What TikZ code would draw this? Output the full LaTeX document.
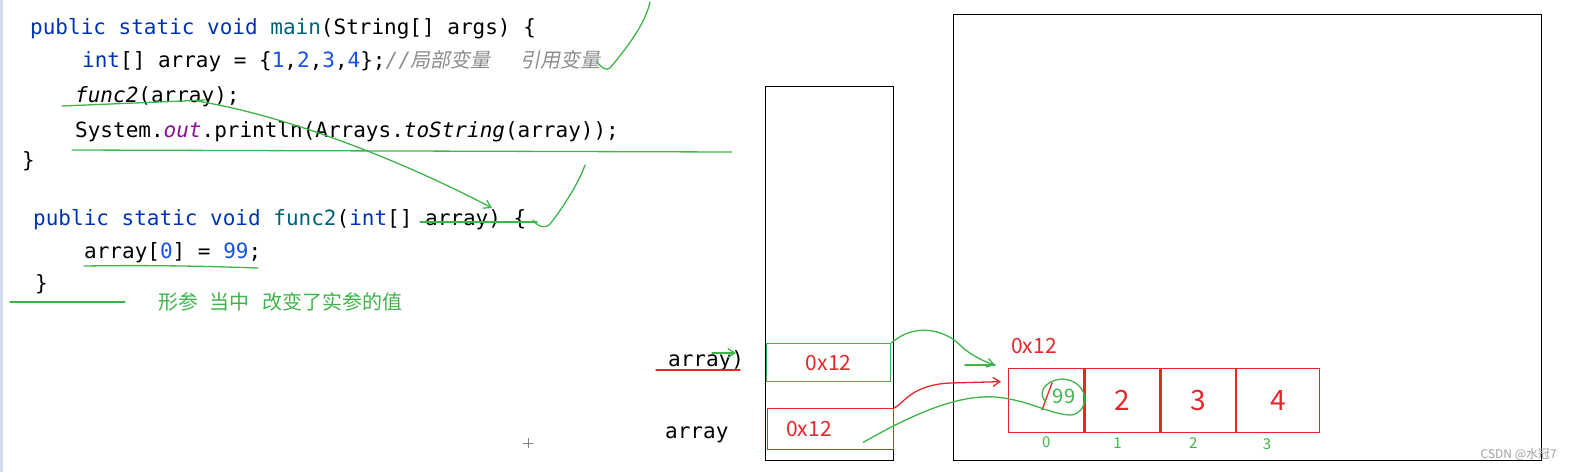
\documentclass[tikz,border=0pt]{standalone}
\usepackage{fontspec}
\setmonofont{DejaVu Sans Mono}
\newfontfamily\cjk{Noto Sans CJK SC}
\newfontfamily\cjkit[FakeSlant=0.2]{Noto Sans CJK SC}
\usetikzlibrary{positioning,arrows.meta,calc}

\definecolor{kwblue}{HTML}{0033B3}
\definecolor{fnteal}{HTML}{00627A}
\definecolor{numblue}{HTML}{1750EB}
\definecolor{fieldpurple}{HTML}{871094}
\definecolor{cmgray}{HTML}{8C8C8C}
\definecolor{pengreen}{HTML}{3DB54A}
\definecolor{penred}{HTML}{E8262A}
\definecolor{gutter}{HTML}{D6DAEA}

\begin{document}
\begin{tikzpicture}[
  x=1pt, y=-1pt,
  code/.style={anchor=base west, inner sep=0pt, font=\ttfamily\fontsize{21}{25}\selectfont},
  addr/.style={text=penred, inner sep=0pt, font=\cjk\fontsize{21}{24}\selectfont},
  frame/.style={draw, line width=1.4pt, inner sep=0pt, anchor=north west},
  slot/.style={line width=1.3pt, inner sep=0pt, anchor=north west},
  cell/.style={draw=penred, line width=1.3pt, inner sep=0pt, minimum height=64pt,
    text=penred, font=\cjk\fontsize{28}{30}\selectfont},
  idx/.style={text=pengreen, inner sep=0pt, font=\cjk\fontsize{15}{16}\selectfont},
  pen/.style={draw=pengreen, line width=1.3pt, line cap=round},
  redpen/.style={draw=penred, line width=1.3pt, line cap=round},
  tip/.style={-{Straight Barb[length=7pt,width=9pt]}}
]
\useasboundingbox (0,0) rectangle (1573,472);
\fill[gutter] (0,0) rectangle (3,472);

% Code
\node[code] (mainline) at (30,34) {\textcolor{kwblue}{public static void} \textcolor{fnteal}{main}(String[] args) \{};
\node[code] (initline) at (82,67) {\textcolor{kwblue}{int}[] array = \{\textcolor{numblue}{1},\textcolor{numblue}{2},\textcolor{numblue}{3},\textcolor{numblue}{4}\};\textcolor{cmgray}{\textit{//}{\cjkit\fontsize{20}{24}\selectfont 局部变量\hspace{30pt}引用变量}}};
\node[code] (callline) at (75,102) {\textit{func2}(array);};
\node[code] (printline) at (75,137) {System.\textcolor{fieldpurple}{\textit{out}}.println(Arrays.\textit{toString}(array));};
\node[code] (mainend) at (22,167) {\}};
\node[code] (declline) at (33,225) {\textcolor{kwblue}{public static void} \textcolor{fnteal}{func2}(\textcolor{kwblue}{int}[] array) \{};
\node[code] (setline) at (84,258) {array[\textcolor{numblue}{0}] = \textcolor{numblue}{99};};
\node[code] (funcend) at (35,290) {\}};
\node[text=pengreen, anchor=base west, inner sep=0pt, font=\cjk\fontsize{20}{22}\selectfont] (note) at (158,309) {形参\hspace{11pt}当中\hspace{13pt}改变了实参的值};

% Stack and heap
\node[frame, minimum width=128pt, minimum height=374pt] (stack) at (765,86) {};
\node[frame, minimum width=588pt, minimum height=446pt] (heap) at (953,14) {};

\node[slot, draw=pengreen, minimum width=124pt, minimum height=38pt] (argslot) at (766,343) {};
\node[addr] (argval) at (argslot.center) {0x12};
\node[slot, draw=penred, minimum width=126pt, minimum height=41pt] (mainslot) at (767,408) {};
\node[addr] (mainval) at (809,429) {0x12};

\node[code] (argname) at (668,366) {array)};
\node[code] (mainname) at (665,438) {array};

% Array in the heap
\node[addr] (heapaddr) at (1034,346) {0x12};
\node[cell, minimum width=75pt, anchor=north west] (c0) at (1008,368) {};
\node[cell, minimum width=75pt, right=0pt of c0] (c1) {2};
\node[cell, minimum width=74pt, right=0pt of c1] (c2) {3};
\node[cell, minimum width=83pt, right=0pt of c2] (c3) {4};

\node[idx, below=3pt of c0] (i0) {0};
\node[idx, below=4pt of c1, xshift=-5pt] (i1) {1};
\node[idx, below=4pt of c2, xshift=-5pt] (i2) {2};
\node[idx, below=5pt of c3, xshift=-11pt] (i3) {3};

\node[text=pengreen, inner sep=0pt, font=\cjk\fontsize{20}{22}\selectfont] (newval) at (1064,396) {99};
\draw[redpen] (1042,410) -- (1052,383);

\node[text=gray!75, anchor=east, inner sep=0pt, font=\cjk\fontsize{12}{13}\selectfont] (credit) at (1557,455) {CSDN @水冠7};
\draw[gray, line width=1pt] (523,443) -- (533,443) (528,438) -- (528,448);

% Pen marks on the code
\draw[pen] (597,62) .. controls (602,68) and (606,71) .. (610,68) .. controls (625,50) and (645,25) .. (650,2);
\draw[pen] (62,106) .. controls (110,104) and (160,102) .. (205,100);
\draw[pen] (72,150) -- (732,152);
\draw[pen] (533,220) .. controls (538,227) and (545,229) .. (550,224) .. controls (565,205) and (580,180) .. (585,165);
\draw[pen] (420,222) -- (537,222);
\draw[pen] (84,266) .. controls (150,265) and (200,266) .. (258,268);
\draw[pen] (10,302) -- (125,302);
\draw[redpen] (656,370) -- (740,370);

\coordinate (callarg) at (197,101);
\coordinate (declarg) at (492,208);
\draw[pen, tip] (callarg) .. controls (300,118) and (420,170) .. (declarg);
\draw[pen, tip] (712,353) -- (736,353);

% Reference arrows
\coordinate (greentip) at ($(c0.north west)+(-13,-3)$);
\coordinate (redtip) at ($(c0.west)+(-7,-19)$);
\draw[pen, tip] (argslot.north east) .. controls (915,322) and (945,330) .. (960,345) .. controls (970,355) and (985,362) .. (greentip);
\draw[pen] ($(greentip)+(-30,0)$) -- (greentip);
\draw[redpen, tip] (mainslot.north east) .. controls (905,402) and (912,385) .. (950,383) -- (redtip);
\draw[pen] ($(mainslot.south east)+(-31,-8)$) .. controls (920,410) and (960,395) .. (995,397)
  .. controls (1030,400) and (1050,415) .. (1072,415) .. controls (1092,410) and (1088,380) .. (1062,379)
  .. controls (1042,381) and (1038,395) .. (1046,402);
\end{tikzpicture}
\end{document}
